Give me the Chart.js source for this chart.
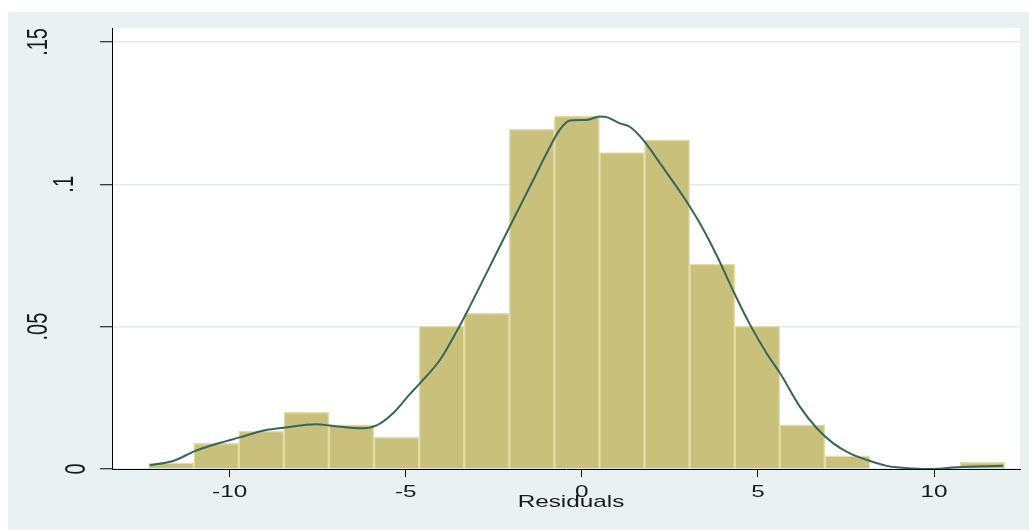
<!DOCTYPE html>
<html>
<head>
<meta charset="utf-8">
<title>Residuals histogram</title>
<script src="https://cdn.jsdelivr.net/npm/chart.js@4.4.1/dist/chart.umd.min.js"></script>
<style>
  html, body { margin: 0; padding: 0; background: #fff; }
  canvas { display: block; }
</style>
</head>
<body>
<canvas id="histChart" width="1029" height="530"></canvas>
<script>
// bin centres of the histogram (bin width about 1.28)
const binCenters = [-11.66, -10.38, -9.10, -7.82, -6.54, -5.26, -3.98, -2.70, -1.42, -0.14,
                    1.14, 2.42, 3.70, 4.98, 6.26, 7.54, 8.82, 10.10, 11.38];
const binDensity = [0.0022, 0.0090, 0.0133, 0.0199, 0.0155, 0.0111, 0.0502, 0.0547, 0.1193, 0.1240,
                    0.1111, 0.1156, 0.0720, 0.0502, 0.0155, 0.0046, 0, 0, 0.0023];

// kernel density curve
const kdeX = [-12.27, -11.61, -10.99, -10.57, -9.72, -8.96, -8.47, -7.54, -7.11, -6.22, -5.83,
              -5.36, -4.89, -4.60, -4.03, -3.56, -3.28, -2.71, -2.05, -1.38, -1.00, -0.63, -0.34,
              0.13, 0.51, 0.70, 1.08, 1.36, 1.74, 2.22, 2.88, 3.35, 3.83, 4.30, 4.77, 5.25, 5.63,
              6.19, 6.67, 7.14, 7.61, 8.09, 8.66, 9.40, 9.97, 10.64, 11.96];
const kdeY = [0.0013, 0.0028, 0.0063, 0.0081, 0.0111, 0.0137, 0.0145, 0.0157, 0.0152, 0.0143, 0.0153,
              0.0196, 0.0262, 0.0301, 0.0383, 0.0482, 0.0547, 0.0687, 0.0851, 0.1015, 0.1109, 0.1191, 0.1224,
              0.1226, 0.1238, 0.1236, 0.1214, 0.1202, 0.1156, 0.1074, 0.0957, 0.0863, 0.0750, 0.0625, 0.0508,
              0.0406, 0.0336, 0.0219, 0.0143, 0.0090, 0.0055, 0.0032, 0.0011, 0.0002, 0.0000, 0.0006, 0.0011];

const xTicks = [-10, -5, 0, 5, 10];
const xTickLabels = ["-10", "-5", "0", "5", "10"];
const yTicks = [0, 0.05, 0.1, 0.15];
const yTickLabels = ["0", ".05", ".1", ".15"];
const xTitle = "Residuals";

document.addEventListener("DOMContentLoaded", () => {

  const ctx = document.getElementById("histChart").getContext("2d");
  const stretch = 1.43; // the original picture is stretched sideways
  const textColor = "#1a1a1a";
  const fontName = "'Liberation Sans', Arial, sans-serif";

  // grey-blue graph region + white plot region
  const backgroundPlugin = {
    id: "stataBackground",
    beforeDraw(chart) {
      const c = chart.ctx;
      const a = chart.chartArea;
      c.save();
      c.fillStyle = "#ffffff";
      c.fillRect(0, 0, chart.width, chart.height);
      c.fillStyle = "#eaf1f3";
      c.fillRect(8, 12, chart.width - 8, chart.height - 12);
      c.fillStyle = "#ffffff";
      c.fillRect(a.left, a.top, a.right - a.left, a.bottom - a.top);
      c.restore();
    }
  };

  // tick labels and axis title, drawn wide like the original
  const labelsPlugin = {
    id: "stataLabels",
    afterDraw(chart) {
      const c = chart.ctx;
      const xs = chart.scales.x;
      const ys = chart.scales.y;
      const a = chart.chartArea;
      c.save();
      c.fillStyle = textColor;

      c.font = "17px " + fontName;
      c.textAlign = "center";
      c.textBaseline = "middle";
      xTicks.forEach((v, i) => {
        c.save();
        c.translate(xs.getPixelForValue(v), 492);
        c.scale(stretch, 1);
        c.fillText(xTickLabels[i], 0, 0);
        c.restore();
      });

      c.textBaseline = "alphabetic";
      c.save();
      c.translate((a.left + a.right) / 2 + 5, 507);
      c.scale(stretch, 1);
      c.fillText(xTitle, 0, 0);
      c.restore();

      // rotated y labels; shorter labels sit closer to the axis, as in Stata
      c.font = "20px " + fontName;
      c.textBaseline = "middle";
      yTicks.forEach((v, i) => {
        const w = c.measureText(yTickLabels[i]).width;
        c.save();
        c.translate(103 - 2.3 * w, ys.getPixelForValue(v));
        c.rotate(-Math.PI / 2);
        c.scale(1, stretch);
        c.fillText(yTickLabels[i], 0, 0);
        c.restore();
      });

      c.restore();
    }
  };

  new Chart(ctx, {
    data: {
      datasets: [
        {
          type: "line",
          order: 0,
          data: kdeX.map((x, i) => ({ x, y: kdeY[i] })),
          borderColor: "#36655a",
          borderWidth: 2,
          pointRadius: 0,
          fill: false,
          cubicInterpolationMode: "monotone"
        },
        {
          type: "bar",
          order: 1,
          data: binCenters.map((x, i) => ({ x, y: binDensity[i] })),
          backgroundColor: "#c9c07c",
          borderColor: "#e4dca6",
          borderWidth: 1.5,
          barPercentage: 1,
          categoryPercentage: 1
        }
      ]
    },
    options: {
      responsive: false,
      animation: false,
      layout: { padding: { left: 0, top: 28, right: 9, bottom: 0 } },
      plugins: { legend: { display: false }, tooltip: { enabled: false } },
      scales: {
        x: {
          type: "linear",
          min: -13.34,
          max: 12.44,
          offset: false,
          z: 1,
          afterBuildTicks: s => { s.ticks = xTicks.map(v => ({ value: v })); },
          afterFit: s => { s.height = 61; },
          ticks: { display: false },
          grid: { offset: false, drawOnChartArea: false, drawTicks: true, tickLength: 8, tickColor: "#000", tickWidth: 1 },
          border: { display: true, color: "#000", width: 1 }
        },
        y: {
          type: "linear",
          min: 0,
          max: 0.1549,
          afterBuildTicks: s => { s.ticks = yTicks.map(v => ({ value: v })); },
          afterFit: s => { s.width = 112; },
          ticks: { display: false },
          grid: { color: "#e4ebee", lineWidth: 1.5, drawTicks: true, tickLength: 12, tickColor: "#000", tickWidth: 1 },
          border: { display: true, color: "#000", width: 1 }
        }
      }
    },
    plugins: [backgroundPlugin, labelsPlugin]
  });

});
</script>
</body>
</html>
